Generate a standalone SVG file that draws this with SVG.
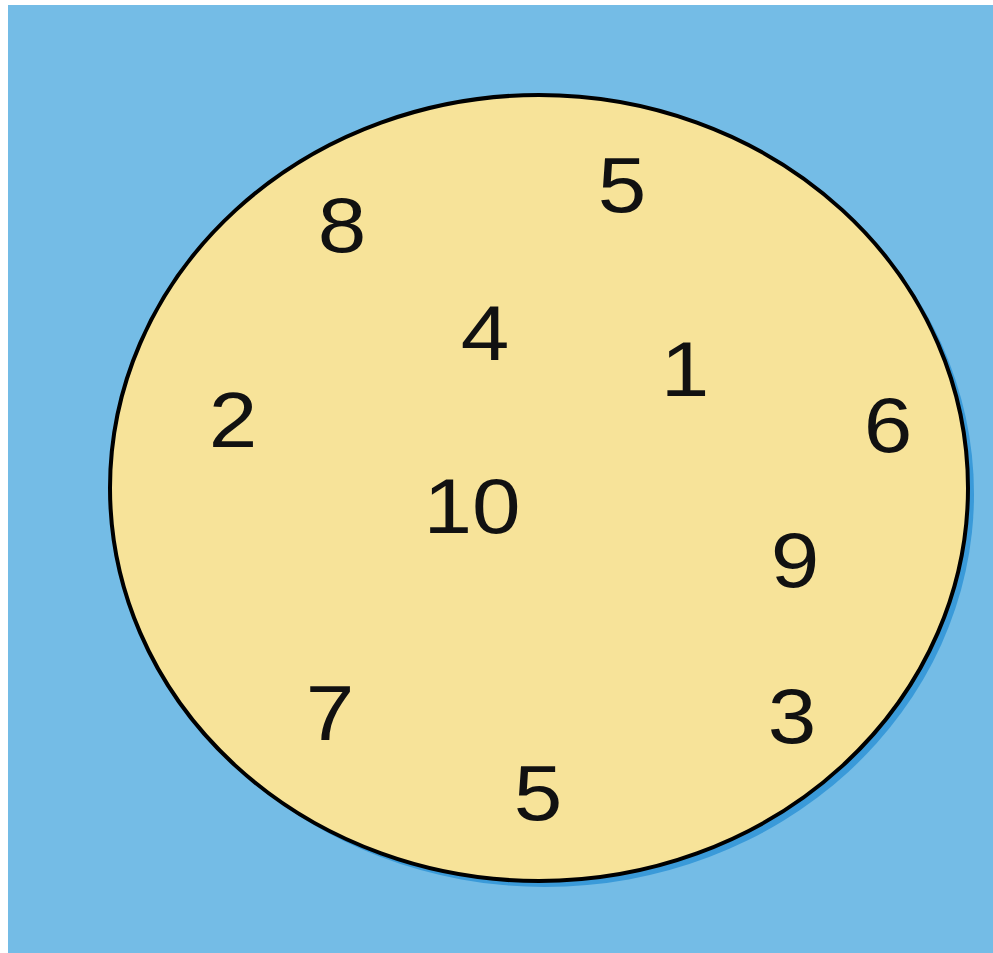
<svg xmlns="http://www.w3.org/2000/svg" width="993" height="953" viewBox="0 0 993 953">
<style>
.n{font-family:"Liberation Sans",Arial,sans-serif;font-size:78px;fill:#111;text-anchor:middle}
</style>
<rect x="0" y="0" width="993" height="953" fill="#ffffff"/>
<rect x="8" y="5" width="985" height="948" fill="#74bce6"/>
<g id="circle">
<ellipse cx="545" cy="494" rx="429" ry="393" fill="#3a9ad9"/>
<ellipse cx="539" cy="488" rx="429" ry="393" fill="#f7e399" stroke="#000" stroke-width="4"/>
</g>
<g id="labels">
<text class="n" transform="translate(622,212) scale(1.12,1)">5</text>
<text class="n" transform="translate(342,252) scale(1.12,1)">8</text>
<text class="n" transform="translate(485,360) scale(1.12,1)">4</text>
<text class="n" transform="translate(685,396) scale(1.12,1)">1</text>
<text class="n" transform="translate(233,447) scale(1.12,1)">2</text>
<text class="n" transform="translate(888,452) scale(1.12,1)">6</text>
<text class="n" transform="translate(472,533) scale(1.12,1)">10</text>
<text class="n" transform="translate(795,587) scale(1.12,1)">9</text>
<text class="n" transform="translate(330,740) scale(1.12,1)">7</text>
<text class="n" transform="translate(792,743) scale(1.12,1)">3</text>
<text class="n" transform="translate(538,820) scale(1.12,1)">5</text>
</g>
</svg>
